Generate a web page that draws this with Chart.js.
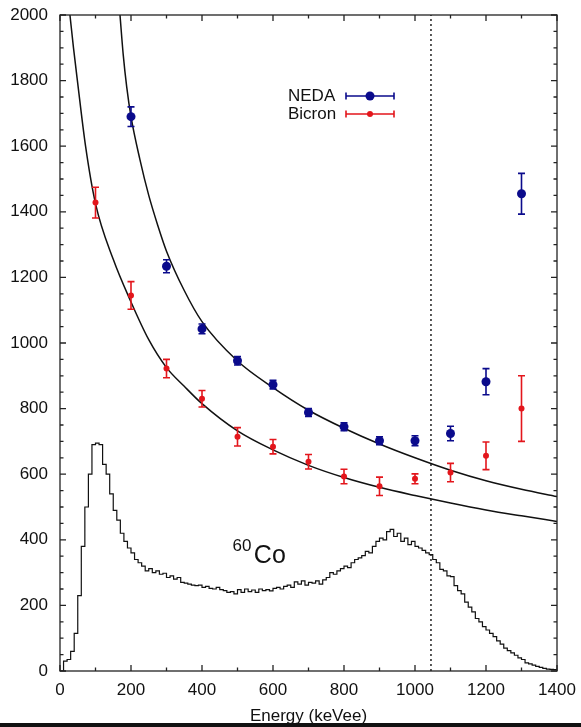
<!DOCTYPE html>
<html>
<head>
<meta charset="utf-8">
<script src="https://cdn.jsdelivr.net/npm/chart.js@4.4.1/dist/chart.umd.min.js"></script>
<style>
  html, body { margin: 0; padding: 0; background: #fff; }
</style>
</head>
<body>
<canvas id="chart" width="581" height="727"></canvas>
<script>
// measured points (keVee)
const nedaE = [200, 300, 400, 500, 600, 700, 800, 900, 1000, 1100, 1200, 1300];
const nedaY = [1690, 1234, 1043, 946, 873, 788, 745, 702, 702, 724, 882, 1455];
const nedaErr = [30, 20, 15, 13, 13, 12, 12, 12, 15, 22, 40, 62];

const bicronE = [100, 200, 300, 400, 500, 600, 700, 800, 900, 1000, 1100, 1200, 1300];
const bicronY = [1428, 1145, 922, 830, 714, 684, 638, 593, 563, 586, 605, 656, 800];
const bicronErr = [47, 42, 28, 25, 28, 22, 22, 22, 28, 15, 28, 42, 100];

// fitted curves
const fitNedaE = [169, 178, 188, 200, 225, 250, 275, 300, 350, 400, 500, 600, 700, 800, 900, 1000, 1100, 1200, 1300, 1400];
const fitNedaY = [2000, 1880, 1780, 1690, 1560, 1450, 1360, 1280, 1160, 1065, 945, 864, 795, 740, 692, 650, 612, 580, 554, 532];
const fitBicronE = [28, 38, 49, 72, 100, 150, 200, 250, 300, 350, 400, 500, 600, 700, 800, 900, 1000, 1100, 1200, 1300, 1400];
const fitBicronY = [2000, 1900, 1800, 1600, 1425, 1255, 1125, 1010, 925, 868, 815, 732, 674, 627, 590, 560, 535, 512, 491, 473, 456];

// 60Co spectrum, 10 keVee bins starting at 0
const binWidth = 10;
const coCounts = [
  0, 0, 30, 35, 60, 115, 230, 380, 500, 600,
  690, 695, 690, 630, 600, 540, 490, 460, 420, 395,
  375, 360, 340, 330, 320, 305, 312, 300, 305, 295,
  298, 285, 290, 280, 285, 270, 268, 265, 262, 260,
  262, 255, 258, 252, 250, 255, 248, 245, 240, 242,
  235, 248, 240, 250, 242, 247, 240, 250, 245, 248,
  244, 252, 255, 250, 258, 262, 255, 272, 265, 275,
  262, 270, 268, 275, 265, 278, 285, 300, 295, 305,
  312, 320, 315, 330, 340, 345, 352, 365, 360, 380,
  395, 405, 400, 425, 432, 410, 420, 395, 405, 385,
  395, 380, 375, 368, 360, 355, 340, 330, 310, 305,
  290, 288, 260, 245, 235, 210, 195, 180, 160, 150,
  135, 125, 115, 105, 92, 82, 70, 62, 55, 48,
  40, 35, 25, 22, 18, 14, 11, 8, 6, 5, 4
];

const edgeE = 1045;

const xyOf = (xs, ys) => xs.map((x, i) => ({ x: x, y: ys[i] }));

const font = "'Liberation Sans', Arial, sans-serif";
const blue = "#0b0b8c";
const red = "#e3161c";

// error bars with caps
const errorBars = {
  id: "errorBars",
  afterDatasetsDraw(chart) {
    const { ctx, scales: { x, y } } = chart;
    ctx.save();
    chart.data.datasets.forEach((ds) => {
      if (!ds.errors) return;
      ctx.strokeStyle = ds.backgroundColor;
      ctx.lineWidth = 1.6;
      ds.data.forEach((p, i) => {
        const px = x.getPixelForValue(p.x);
        const y1 = y.getPixelForValue(p.y - ds.errors[i]);
        const y2 = y.getPixelForValue(p.y + ds.errors[i]);
        ctx.beginPath();
        ctx.moveTo(px, y1); ctx.lineTo(px, y2);
        ctx.moveTo(px - 3.5, y1); ctx.lineTo(px + 3.5, y1);
        ctx.moveTo(px - 3.5, y2); ctx.lineTo(px + 3.5, y2);
        ctx.stroke();
      });
    });
    ctx.restore();
  }
};

// box, inward ticks on all sides, legend, labels
const frame = {
  id: "frame",
  afterDraw(chart) {
    const { ctx, chartArea: a, scales: { x, y } } = chart;
    ctx.save();
    ctx.strokeStyle = "#222";
    ctx.lineWidth = 1.3;
    ctx.strokeRect(a.left, a.top, a.right - a.left, a.bottom - a.top);
    ctx.beginPath();
    for (let v = 0; v <= 1400; v += 100) {
      const px = x.getPixelForValue(v);
      const len = v % 200 ? 3.5 : 6;
      ctx.moveTo(px, a.bottom); ctx.lineTo(px, a.bottom - len);
      ctx.moveTo(px, a.top); ctx.lineTo(px, a.top + len);
    }
    for (let v = 0; v <= 2000; v += 50) {
      const py = y.getPixelForValue(v);
      const len = v % 200 ? 3.5 : 6;
      ctx.moveTo(a.left, py); ctx.lineTo(a.left + len, py);
      ctx.moveTo(a.right, py); ctx.lineTo(a.right - len, py);
    }
    ctx.stroke();

    // legend
    const items = [
      { text: "NEDA", color: blue, r: 4.5, yy: 96 },
      { text: "Bicron", color: red, r: 3, yy: 114 }
    ];
    ctx.font = "17px " + font;
    ctx.textBaseline = "middle";
    ctx.textAlign = "left";
    items.forEach((it) => {
      ctx.fillStyle = "#111";
      ctx.fillText(it.text, 288, it.yy);
      ctx.strokeStyle = it.color;
      ctx.fillStyle = it.color;
      ctx.lineWidth = 1.6;
      ctx.beginPath();
      ctx.moveTo(346, it.yy); ctx.lineTo(394, it.yy);
      ctx.moveTo(346, it.yy - 3.5); ctx.lineTo(346, it.yy + 3.5);
      ctx.moveTo(394, it.yy - 3.5); ctx.lineTo(394, it.yy + 3.5);
      ctx.stroke();
      ctx.beginPath();
      ctx.arc(370, it.yy, it.r, 0, Math.PI * 2);
      ctx.fill();
    });

    // 60Co label
    ctx.fillStyle = "#111";
    ctx.textBaseline = "alphabetic";
    ctx.font = "17px " + font;
    ctx.fillText("60", x.getPixelForValue(486), y.getPixelForValue(365));
    ctx.font = "25px " + font;
    ctx.fillText("Co", x.getPixelForValue(546), y.getPixelForValue(330));

    // dark edge at the bottom of the picture
    ctx.fillStyle = "#111";
    ctx.fillRect(0, chart.height - 4, chart.width, 4);
    ctx.restore();
  }
};

new Chart(document.getElementById("chart").getContext("2d"), {
  type: "scatter",
  data: {
    datasets: [
      {
        label: "NEDA",
        data: xyOf(nedaE, nedaY),
        errors: nedaErr,
        backgroundColor: blue,
        borderWidth: 0,
        pointRadius: 4.5
      },
      {
        label: "Bicron",
        data: xyOf(bicronE, bicronY),
        errors: bicronErr,
        backgroundColor: red,
        borderWidth: 0,
        pointRadius: 3
      },
      {
        label: "fit NEDA",
        data: xyOf(fitNedaE, fitNedaY),
        showLine: true,
        borderColor: "#111",
        borderWidth: 1.5,
        pointRadius: 0,
        cubicInterpolationMode: "monotone"
      },
      {
        label: "fit Bicron",
        data: xyOf(fitBicronE, fitBicronY),
        showLine: true,
        borderColor: "#111",
        borderWidth: 1.5,
        pointRadius: 0,
        cubicInterpolationMode: "monotone"
      },
      {
        label: "edge",
        data: [{ x: edgeE, y: 0 }, { x: edgeE, y: 2000 }],
        showLine: true,
        borderColor: "#222",
        borderWidth: 1.5,
        borderDash: [2, 3],
        pointRadius: 0
      },
      {
        label: "60Co",
        data: coCounts.map((c, i) => ({ x: i * binWidth, y: c })),
        showLine: true,
        stepped: "after",
        borderColor: "#111",
        borderWidth: 1.2,
        pointRadius: 0
      }
    ]
  },
  options: {
    responsive: false,
    animation: false,
    layout: { padding: { left: 0, right: 24, top: 15, bottom: 0 } },
    plugins: {
      legend: { display: false },
      tooltip: { enabled: false }
    },
    scales: {
      x: {
        type: "linear",
        min: 0,
        max: 1400,
        ticks: {
          stepSize: 200,
          color: "#111",
          font: { family: font, size: 17 },
          padding: 9,
          maxRotation: 0,
          callback: (v) => String(v)
        },
        grid: { display: false, drawTicks: false },
        border: { display: false },
        title: {
          display: true,
          text: "Energy (keVee)",
          color: "#111",
          font: { family: font, size: 17 },
          padding: { top: 0, bottom: 0 }
        },
        afterFit(scale) {
          scale.height = 56;
          scale.paddingLeft = 0;
          scale.paddingRight = 0;
        }
      },
      y: {
        min: 0,
        max: 2000,
        ticks: {
          stepSize: 200,
          color: "#111",
          font: { family: font, size: 17 },
          padding: 12,
          callback: (v) => String(v)
        },
        grid: { display: false, drawTicks: false },
        border: { display: false },
        afterFit(scale) {
          scale.width = 60;
          scale.paddingTop = 0;
          scale.paddingBottom = 0;
        }
      }
    }
  },
  plugins: [errorBars, frame]
});
</script>
</body>
</html>
